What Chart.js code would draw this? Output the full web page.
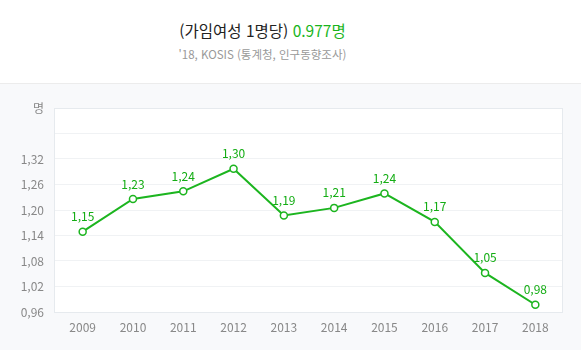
<!DOCTYPE html>
<html lang="ko">
<head>
<meta charset="utf-8">
<script src="https://cdn.jsdelivr.net/npm/chart.js@4"></script>
<style>
  html, body { margin: 0; padding: 0; }
  body { width: 581px; height: 350px; background: #f8f9fb; font-family: "Noto Sans CJK KR", "Noto Sans", sans-serif; overflow: hidden; }
  .head { height: 83px; background: #fff; border-bottom: 1px solid #ececec; text-align: center; padding-right: 56px; }
  .title { padding-top: 17px; font-size: 15.5px; color: #222; line-height: 26px; }
  .title b { font-weight: normal; color: #19b51c; }
  .sub { font-size: 11.5px; color: #999; line-height: 16px; margin-top: 3px; }
  #wrap { position: relative; width: 581px; height: 266px; }
</style>
</head>
<body>
<div class="head">
  <div class="title">(가임여성 1명당) <b>0.977명</b></div>
  <div class="sub">'18, KOSIS (통계청, 인구동향조사)</div>
</div>
<div id="wrap"><canvas id="rateChart" width="581" height="266"></canvas></div>
<script>
// 합계출산율 (가임여성 1명당 출생아 수)
const years = ['2009', '2010', '2011', '2012', '2013', '2014', '2015', '2016', '2017', '2018'];
const birthRate = [1.149, 1.226, 1.244, 1.297, 1.187, 1.205, 1.239, 1.172, 1.052, 0.977];
const yTicks = [0.96, 1.02, 1.08, 1.14, 1.20, 1.26, 1.32, 1.38, 1.44];

const green = '#1cb51f';

function fmt(v) {
    return v.toFixed(2).replace('.', ',');
}

// plot area background + border
const plotBox = {
    id: 'plotBox',
    beforeDraw(chart) {
        const { ctx, chartArea: a } = chart;
        ctx.save();
        ctx.fillStyle = '#fff';
        ctx.fillRect(a.left, a.top, a.right - a.left, a.bottom - a.top);
        ctx.restore();
    },
    afterDraw(chart) {
        const { ctx, chartArea: a } = chart;
        ctx.save();
        ctx.strokeStyle = '#e6eaee';
        ctx.lineWidth = 1;
        ctx.strokeRect(Math.round(a.left) + 0.5, Math.round(a.top) + 0.5, Math.round(a.right - a.left), Math.round(a.bottom - a.top));
        ctx.restore();
    }
};

// value labels above points
const valueLabels = {
    id: 'valueLabels',
    afterDatasetsDraw(chart) {
        const ctx = chart.ctx;
        const meta = chart.getDatasetMeta(0);
        ctx.save();
        ctx.font = '12px "Noto Sans CJK KR", sans-serif';
        ctx.fillStyle = '#14ad14';
        ctx.textAlign = 'center';
        ctx.textBaseline = 'middle';
        meta.data.forEach((pt, i) => {
            ctx.fillText(fmt(birthRate[i]), pt.x, pt.y - 15);
        });
        ctx.restore();
    }
};

new Chart(document.getElementById('rateChart'), {
    type: 'line',
    data: {
        datasets: [{
            data: birthRate.map((v, i) => ({ x: i, y: v })),
            borderColor: green,
            borderWidth: 2,
            pointRadius: 3.5,
            pointBackgroundColor: '#fff',
            pointBorderColor: green,
            pointBorderWidth: 1.5,
            tension: 0
        }]
    },
    options: {
        responsive: false,
        animation: false,
        layout: { padding: { top: 24, right: 19, left: 0, bottom: 0 } },
        plugins: { legend: { display: false }, tooltip: { enabled: false } },
        scales: {
            x: {
                type: 'linear',
                min: -0.57,
                max: 9.53,
                afterBuildTicks(s) { s.ticks = years.map((y, i) => ({ value: i })); },
                grid: { display: false, drawTicks: false },
                border: { display: false },
                ticks: {
                    color: '#888',
                    font: { size: 12, family: '"Noto Sans CJK KR", sans-serif' },
                    padding: 8,
                    callback(v) { return years[v]; }
                },
                afterFit(s) { s.height = 38; }
            },
            y: {
                min: 0.96,
                max: 1.44,
                afterBuildTicks(s) { s.ticks = yTicks.map(v => ({ value: v })); },
                grid: { color: '#f0f2f4', drawTicks: false },
                border: { display: false },
                ticks: {
                    color: '#888',
                    font: { size: 12, family: '"Noto Sans CJK KR", sans-serif' },
                    padding: 10,
                    callback(v) {
                        if (Math.abs(v - 1.44) < 1e-6) return '명';
                        if (Math.abs(v - 1.38) < 1e-6) return '';
                        return fmt(v);
                    }
                },
                afterFit(s) { s.width = 54; }
            }
        }
    },
    plugins: [plotBox, valueLabels]
});
</script>
</body>
</html>
